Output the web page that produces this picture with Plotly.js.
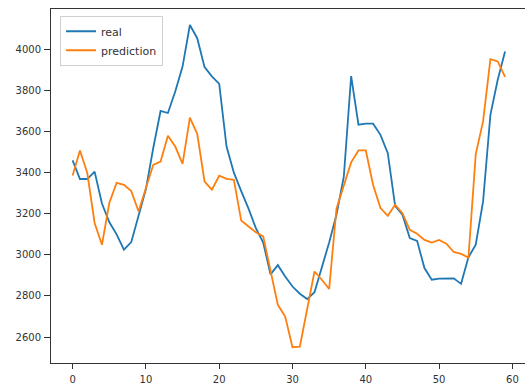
<!DOCTYPE html>
<html>
<head>
<meta charset="utf-8">
<script src="https://cdn.plot.ly/plotly-3.0.1.min.js"></script>
<style>html,body{margin:0;padding:0;background:#fff;}#chart{width:525px;height:385px;}</style>
</head>
<body>
<div id="chart"></div>
<script>
const steps = Array.from({length: 60}, (_, i) => i);
const realValues = [3460,3369,3369,3405,3250,3160,3100,3025,3062,3190,
  3320,3520,3700,3690,3795,3916,4118,4054,3913,3868,
  3832,3527,3400,3310,3225,3130,3060,2905,2950,2895,
  2846,2811,2785,2818,2940,3060,3195,3380,3870,3633,
  3638,3638,3584,3495,3238,3195,3082,3068,2936,2879,
  2884,2884,2886,2859,2988,3050,3260,3681,3852,3989];
const predictionValues = [3386,3508,3398,3155,3049,3252,3350,3341,3310,3211,
  3325,3438,3454,3579,3527,3443,3668,3589,3357,3317,
  3385,3370,3365,3167,3138,3110,3090,2925,2757,2700,
  2551,2554,2735,2919,2879,2834,3225,3335,3450,3508,
  3508,3340,3228,3190,3244,3203,3122,3103,3073,3060,
  3073,3054,3014,3005,2987,3490,3649,3952,3941,3866];
const seriesNames = ["real", "prediction"];
const xTicks = [0,10,20,30,40,50,60];
const yTicks = [2600,2800,3000,3200,3400,3600,3800,4000];

const traces = [
  {x: steps, y: realValues, name: seriesNames[0], type: "scatter", mode: "lines",
   line: {color: "#1f77b4", width: 1.8}},
  {x: steps, y: predictionValues, name: seriesNames[1], type: "scatter", mode: "lines",
   line: {color: "#ff7f0e", width: 1.8}}
];

const layout = {
  width: 525, height: 385,
  margin: {l: 51, r: 0, t: 9, b: 22},
  paper_bgcolor: "#fff", plot_bgcolor: "#fff",
  font: {family: "DejaVu Sans", size: 10, color: "#333"},
  showlegend: true,
  legend: {x: 0.019, y: 0.981, xanchor: "left", yanchor: "top",
    bgcolor: "rgba(255,255,255,0.85)", bordercolor: "#d0d0d0", borderwidth: 1,
    font: {family: "DejaVu Sans", size: 11, color: "#333"}, itemwidth: 30,
    tracegroupgap: 0},
  xaxis: {range: [-2.95, 61.72], tickvals: xTicks, ticktext: xTicks.map(String),
    showgrid: false, zeroline: false, showline: true, linecolor: "#333", linewidth: 1,
    mirror: true, ticks: "outside", ticklen: 5, tickcolor: "#333", ticklabelstandoff: 2,
    tickfont: {size: 10, color: "#333"}},
  yaxis: {range: [2474, 4196], tickvals: yTicks, ticktext: yTicks.map(String),
    showgrid: false, zeroline: false, showline: true, linecolor: "#333", linewidth: 1,
    ticks: "outside", ticklen: 6, tickcolor: "#333", ticklabelstandoff: 1,
    tickfont: {size: 10, color: "#333"}}
};

Plotly.newPlot("chart", traces, layout, {staticPlot: true, displayModeBar: false});
</script>
</body>
</html>
